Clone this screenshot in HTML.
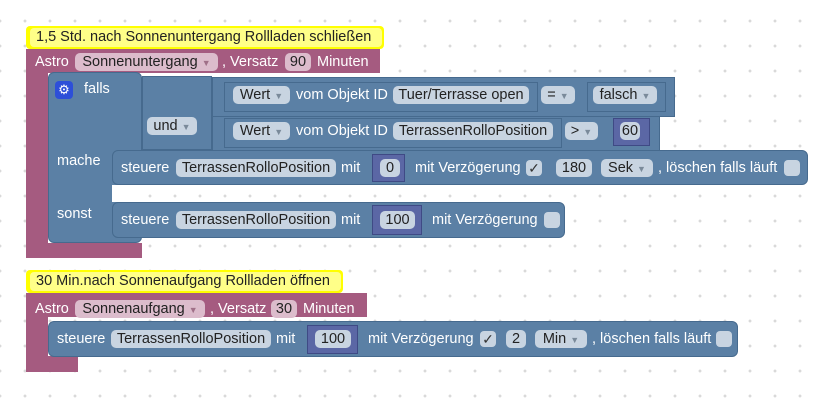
<!DOCTYPE html>
<html><head><meta charset="utf-8"><style>
body{margin:0;width:821px;height:402px;overflow:hidden;background:#fff;font-family:"Liberation Sans",Arial,sans-serif;font-size:14.5px;position:relative}
.a{position:absolute}
.t{position:absolute;color:#fff;line-height:16px;white-space:nowrap;font-size:14.5px}
.p{position:absolute;height:18px;line-height:18px;border-radius:5px;color:#222;text-align:center;white-space:nowrap;font-size:14.5px}
.bp{background:#c8d4e1}
.pp{background:#dcbccc}
.blue{position:absolute;background:#5b80a5;border:1px solid #466a8e;box-sizing:border-box}
.pur{position:absolute;background:#a55b80}
.num{position:absolute;background:#5b67a5;border:1px solid #3f4a85;box-sizing:border-box}
.cb{position:absolute;width:16px;height:16px;background:#c8d4e1;border-radius:4px;color:#333;font-size:14px;line-height:16px;text-align:center}
.y{position:absolute;background:#ffff00;border-radius:4px}
.yi{position:absolute;background:#ffff88;border-radius:4px;color:#222;line-height:18px;padding-left:6px;white-space:nowrap;font-size:14.5px}
.ar{color:#7a8a9a;font-size:9px}
</style></head><body>
<svg class="a" style="left:0;top:0" width="821" height="402"><defs><pattern id="g" x="0" y="-2" width="25" height="25" patternUnits="userSpaceOnUse"><path d="M0 23h3M1.5 21.5v3" stroke="#ccc" stroke-width="1" transform="translate(-1.5,0)"/><path d="M23.5 23h3M25 21.5v3" stroke="#ccc"/></pattern></defs><rect width="821" height="402" fill="url(#g)"/></svg>

<!-- Block 1 -->
<div class="y" style="left:26px;top:26px;width:358px;height:23px"></div>
<div class="yi" style="left:30px;top:28px;width:346px;height:19px">1,5 Std. nach Sonnenuntergang Rollladen schließen</div>
<div class="pur" style="left:26px;top:49px;width:354px;height:24px"></div>
<div class="pur" style="left:26px;top:72px;width:22px;height:186px"></div>
<div class="pur" style="left:26px;top:243px;width:116px;height:15px"></div>
<div class="t" style="left:35px;top:54px">Astro</div>
<div class="p pp" style="left:75px;top:53px;width:143px">Sonnenuntergang <span class="ar" style="color:#a07088">▼</span></div>
<div class="t" style="left:222px;top:54px">, Versatz</div>
<div class="p pp" style="left:285px;top:53px;width:26px">90</div>
<div class="t" style="left:317px;top:54px">Minuten</div>

<div class="blue" style="left:48px;top:72px;width:94px;height:171px;border-radius:6px"></div>
<div class="blue" style="left:142px;top:76px;width:70px;height:74px;border-left:1px solid #466a8e"></div>
<div class="a" style="left:55px;top:81px;width:18px;height:18px;background:#2d4fd8;border-radius:4px;color:#fff;text-align:center;line-height:18px;font-size:13px">⚙</div>
<div class="t" style="left:84px;top:81px">falls</div>
<div class="p bp" style="left:147px;top:117px;width:50px">und <span class="ar">▼</span></div>
<div class="t" style="left:57px;top:153px">mache</div>
<div class="t" style="left:57px;top:206px">sonst</div>

<div class="blue" style="left:212px;top:77px;width:463px;height:40px"></div>
<div class="a" style="left:224px;top:82px;width:312px;height:28px;border:1px solid #466a8e"></div>
<div class="p bp" style="left:233px;top:86px;width:57px">Wert <span class="ar">▼</span></div>
<div class="t" style="left:296px;top:87px">vom Objekt ID</div>
<div class="p bp" style="left:393px;top:86px;width:136px">Tuer/Terrasse open</div>
<div class="p bp" style="left:541px;top:86px;width:34px">= <span class="ar">▼</span></div>
<div class="a" style="left:587px;top:82px;width:77px;height:28px;border:1px solid #466a8e"></div>
<div class="p bp" style="left:593px;top:86px;width:64px">falsch <span class="ar">▼</span></div>

<div class="blue" style="left:212px;top:116px;width:448px;height:35px"></div>
<div class="a" style="left:224px;top:118px;width:336px;height:28px;border:1px solid #466a8e"></div>
<div class="p bp" style="left:233px;top:122px;width:57px">Wert <span class="ar">▼</span></div>
<div class="t" style="left:296px;top:123px">vom Objekt ID</div>
<div class="p bp" style="left:393px;top:122px;width:160px">TerrassenRolloPosition</div>
<div class="p bp" style="left:565px;top:122px;width:33px">&gt; <span class="ar">▼</span></div>
<div class="num" style="left:613px;top:118px;width:37px;height:28px"></div>
<div class="p bp" style="left:620px;top:122px;width:20px">60</div>

<div class="blue" style="left:112px;top:150px;width:696px;height:35px;border-radius:6px"></div>
<div class="t" style="left:121px;top:160px">steuere</div>
<div class="p bp" style="left:176px;top:159px;width:160px">TerrassenRolloPosition</div>
<div class="t" style="left:341px;top:160px">mit</div>
<div class="num" style="left:372px;top:154px;width:33px;height:28px"></div>
<div class="p bp" style="left:380px;top:159px;width:20px">0</div>
<div class="t" style="left:415px;top:160px">mit Verzögerung</div>
<div class="cb" style="left:526px;top:160px">✓</div>
<div class="p bp" style="left:556px;top:159px;width:36px">180</div>
<div class="p bp" style="left:601px;top:159px;width:52px">Sek <span class="ar">▼</span></div>
<div class="t" style="left:658px;top:160px">, löschen falls läuft</div>
<div class="cb" style="left:784px;top:160px"></div>

<div class="a" style="left:112px;top:185px;width:30px;height:17px;background:#fff"></div>
<div class="blue" style="left:112px;top:202px;width:453px;height:36px;border-radius:6px"></div>
<div class="t" style="left:121px;top:212px">steuere</div>
<div class="p bp" style="left:176px;top:211px;width:160px">TerrassenRolloPosition</div>
<div class="t" style="left:341px;top:212px">mit</div>
<div class="num" style="left:372px;top:205px;width:50px;height:30px"></div>
<div class="p bp" style="left:380px;top:211px;width:35px">100</div>
<div class="t" style="left:432px;top:212px">mit Verzögerung</div>
<div class="cb" style="left:544px;top:212px"></div>

<!-- Block 2 -->
<div class="y" style="left:26px;top:270px;width:317px;height:23px"></div>
<div class="yi" style="left:30px;top:272px;width:305px;height:19px">30 Min.nach Sonnenaufgang Rollladen öffnen</div>
<div class="pur" style="left:26px;top:293px;width:341px;height:24px"></div>
<div class="pur" style="left:26px;top:316px;width:22px;height:56px"></div>
<div class="pur" style="left:26px;top:356px;width:52px;height:16px"></div>
<div class="t" style="left:35px;top:301px">Astro</div>
<div class="p pp" style="left:75px;top:300px;width:130px">Sonnenaufgang <span class="ar" style="color:#a07088">▼</span></div>
<div class="t" style="left:210px;top:301px">, Versatz</div>
<div class="p pp" style="left:271px;top:300px;width:26px">30</div>
<div class="t" style="left:303px;top:301px">Minuten</div>

<div class="blue" style="left:48px;top:321px;width:690px;height:36px;border-radius:6px"></div>
<div class="t" style="left:57px;top:331px">steuere</div>
<div class="p bp" style="left:111px;top:330px;width:160px">TerrassenRolloPosition</div>
<div class="t" style="left:276px;top:331px">mit</div>
<div class="num" style="left:307px;top:325px;width:51px;height:29px"></div>
<div class="p bp" style="left:315px;top:330px;width:36px">100</div>
<div class="t" style="left:368px;top:331px">mit Verzögerung</div>
<div class="cb" style="left:480px;top:331px">✓</div>
<div class="p bp" style="left:506px;top:330px;width:20px">2</div>
<div class="p bp" style="left:535px;top:330px;width:52px">Min <span class="ar">▼</span></div>
<div class="t" style="left:592px;top:331px">, löschen falls läuft</div>
<div class="cb" style="left:716px;top:331px"></div>
</body></html>
